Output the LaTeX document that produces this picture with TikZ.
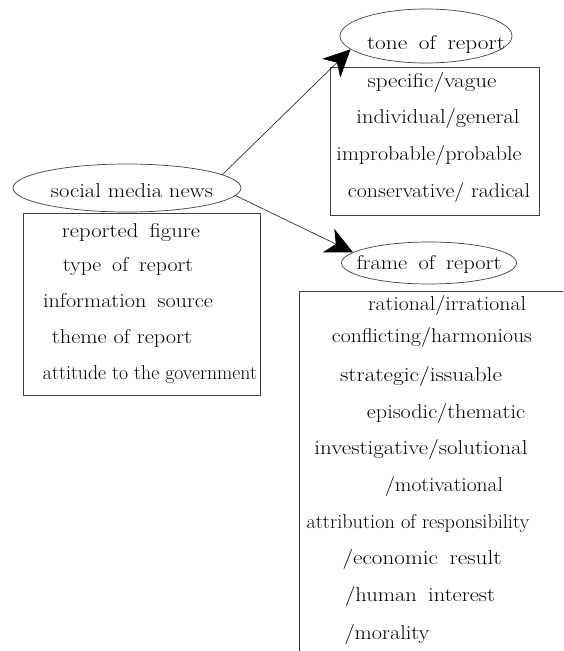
\documentclass[tikz,border=0pt]{standalone}
\usepackage{fontspec}
\usepackage{graphicx}
\usetikzlibrary{shapes.geometric,arrows.meta}
\newcommand\elltext[3]{\raisebox{-#2pt}[0pt][0pt]{\makebox[0pt]{\kern#1pt #3\kern-#1pt}}}
\newcommand\fw[2]{\resizebox{#1pt}{\height}{#2}}
\newcommand\fs[2]{\resizebox{#1pt}{\height}{\spaceskip=0.5em\relax #2}}
\begin{document}
\begin{tikzpicture}[x=1pt,y=-1pt,
  ell/.style={draw=black!75, line width=0.7pt, ellipse, inner sep=0pt},
  boxr/.style={draw=black!75, line width=0.7pt, rectangle, inner sep=0pt},
  tl/.style={inner sep=0pt, anchor=base},
  arr/.style={draw=black!80, line width=0.7pt, -{Stealth[length=27pt,width=26pt,inset=8pt,color=black]}},
  font=\fontsize{20}{24}\selectfont]
\path[use as bounding box, clip] (0,0) rectangle (563,651);
\fill[white] (0,0) rectangle (563,651);

% ellipses
\node[ell, minimum width=228pt, minimum height=48pt] (soc) at (127,188) {\elltext{5}{9.5}{\fw{162}{social media news}}};
\node[ell, minimum width=172pt, minimum height=54pt] (tone) at (426,36) {\elltext{10}{13.5}{\fs{138}{tone of report}}};
\node[ell, minimum width=175pt, minimum height=42pt] (frame) at (429,263) {\elltext{0}{6.5}{\fs{145}{frame of report}}};

% boxes
\node[boxr, minimum width=237pt, minimum height=182pt] (box1) at (141.5,304) {};
\node[boxr, minimum width=209pt, minimum height=148pt] (box2) at (434.5,141) {};
\node[boxr, minimum width=341pt, minimum height=430pt] (box3) at (469.5,506) {};

% left box text
\node[tl] (l1) at (131,237) {\fs{138}{reported figure}};
\node[tl] (l2) at (128,271) {\fs{130}{type of report}};
\node[tl] (l3) at (128,307) {\fs{170}{information source}};
\node[tl] (l4) at (122,343) {\fw{140}{theme of report}};
\node[tl] (l5) at (150,379) {\fw{214}{attitude to the government}};

% tone box text
\node[tl] (t1) at (432,87) {\fw{129}{specific/vague}};
\node[tl] (t2) at (438,123) {\fw{163}{individual/general}};
\node[tl] (t3) at (429,160) {\fw{185}{improbable/probable}};
\node[tl] (t4) at (439,197) {\fw{182}{conservative/ radical}};

% frame box text
\node[tl] (f1) at (447,310) {\fw{158}{rational/irrational}};
\node[tl] (f2) at (432,342) {\fw{200}{conflicting/harmonious}};
\node[tl] (f3) at (421,381) {\fw{162}{strategic/issuable}};
\node[tl] (f4) at (446,418) {\fw{158}{episodic/thematic}};
\node[tl] (f5) at (421,454) {\fw{213}{investigative/solutional}};
\node[tl] (f6) at (444,491) {\fw{118}{/motivational}};
\node[tl] (f7) at (418,528) {\fw{223}{attribution of responsibility}};
\node[tl] (f8) at (422,564) {\fs{159}{/economic result}};
\node[tl] (f9) at (420,601) {\fs{150}{/human interest}};
\node[tl] (f10) at (387,639) {\fw{85}{/morality}};

% arrows
\draw[arr] (soc.8) -- (tone.190);
\draw[arr] (soc.-4) -- (frame.172);
\end{tikzpicture}
\end{document}
